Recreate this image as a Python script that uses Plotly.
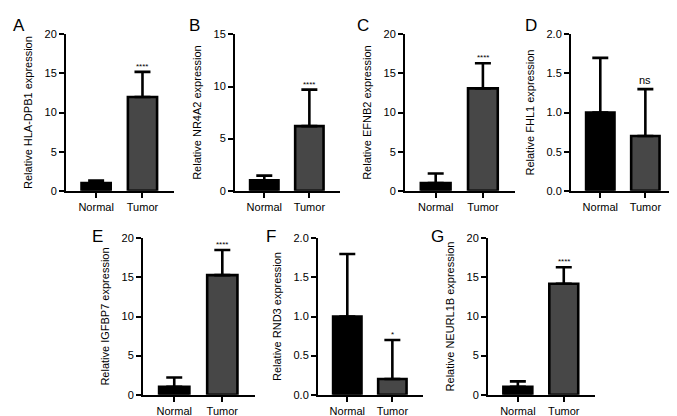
import plotly.graph_objects as go

# ---- data ----
genes = ["HLA-DPB1", "NR4A2", "EFNB2", "FHL1", "IGFBP7", "RND3", "NEURL1B"]
panel_letters = ["A", "B", "C", "D", "E", "F", "G"]
categories = ["Normal", "Tumor"]
normal_mean = [1.0, 1.0, 1.0, 1.0, 1.0, 1.0, 1.0]
normal_err = [0.3, 0.45, 1.2, 0.7, 1.2, 0.8, 0.7]
tumor_mean = [12.0, 6.2, 13.1, 0.7, 15.3, 0.2, 14.2]
tumor_err = [3.2, 3.5, 3.2, 0.6, 3.2, 0.5, 2.1]
significance = ["****", "****", "****", "ns", "****", "*", "****"]
y_max = [20, 15, 20, 2.0, 20, 2.0, 20]
y_dtick = [5, 5, 5, 0.5, 5, 0.5, 5]

# ---- layout (pixel boxes: x0, x1, ytop, ybottom) ----
W, H = 677, 416
boxes = [
    (58, 166, 21, 182),
    (227, 332, 21, 182),
    (397, 507, 21, 182),
    (563, 668, 21, 182),
    (135, 247, 231, 392),
    (310, 415, 231, 392),
    (480, 587, 231, 392),
]
letter_pos = [(11, 12), (186, 12), (355, 12), (523, 12), (89, 229), (263, 229), (429, 229)]

FONT = "Liberation Sans, Arial, sans-serif"
fig = go.Figure()
annotations = []
layout = dict(
    width=W, height=H, margin=dict(l=0, r=0, t=0, b=0),
    paper_bgcolor="white", plot_bgcolor="white", showlegend=False,
    font=dict(family=FONT, size=11, color="black"),
)

for i, g in enumerate(genes):
    n = i + 1
    xa = "x" if n == 1 else f"x{n}"
    ya = "y" if n == 1 else f"y{n}"
    x0, x1, yt, yb = boxes[i]
    fig.add_trace(go.Bar(
        x=categories, y=[normal_mean[i], tumor_mean[i]],
        xaxis=xa, yaxis=ya, width=0.63,
        marker=dict(color=["#000000", "#474747"], line=dict(color="black", width=2.6)),
        error_y=dict(type="data", symmetric=False, array=[normal_err[i], tumor_err[i]],
                     arrayminus=[0, 0], color="black", thickness=2.6, width=8),
    ))
    fmt = ".1f" if y_dtick[i] < 1 else "d"
    layout["xaxis" if n == 1 else f"xaxis{n}"] = dict(
        domain=[x0 / W, x1 / W], anchor=ya, range=[-0.65, 1.68],
        showline=True, linecolor="black", linewidth=2,
        ticks="outside", ticklen=5, tickwidth=2, tickcolor="black",
        showgrid=False, zeroline=False, tickfont=dict(size=11),
    )
    layout["yaxis" if n == 1 else f"yaxis{n}"] = dict(
        domain=[1 - yb / H, 1 - yt / H], anchor=xa, range=[0, y_max[i]],
        dtick=y_dtick[i], tick0=0, tickformat=fmt,
        showline=True, linecolor="black", linewidth=2,
        ticks="outside", ticklen=5, tickwidth=2, tickcolor="black",
        showgrid=False, zeroline=False, tickfont=dict(size=11),
        title=dict(text=f"Relative {g} expression", font=dict(size=11), standoff=10),
    )
    sig = significance[i]
    annotations.append(dict(
        x="Tumor", y=tumor_mean[i] + tumor_err[i], xref=xa, yref=ya,
        text=sig, showarrow=False, yanchor="bottom", yshift=1 if sig == "ns" else -1,
        font=dict(size=11 if sig == "ns" else 8, family=FONT, color="black"),
    ))
    lx, ly = letter_pos[i]
    annotations.append(dict(
        x=lx / W, y=1 - ly / H, xref="paper", yref="paper", text=panel_letters[i],
        showarrow=False, xanchor="center", yanchor="middle",
        font=dict(size=17, family=FONT, color="black"),
    ))

layout["annotations"] = annotations
fig.update_layout(**layout)
fig.write_html("out.html")
